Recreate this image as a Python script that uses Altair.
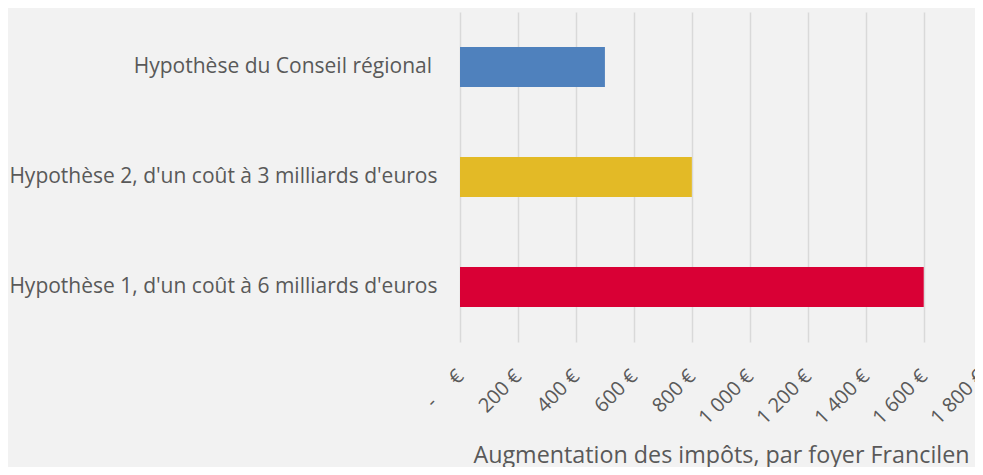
import altair as alt
import pandas as pd

NBSP = "\u00a0"
categories = [
    "Hypothèse du Conseil régional",
    "Hypothèse 2, d'un coût à 3 milliards d'euros",
    "Hypothèse 1, d'un coût à 6 milliards d'euros",
]
values = [500, 800, 1600]
colors = ["#4F81BD", "#E3BA26", "#D90035"]
tick_values = [0, 200, 400, 600, 800, 1000, 1200, 1400, 1600, 1800]
x_title = "Augmentation des impôts, par foyer Francilen"

df = pd.DataFrame({"cat": categories, "val": values})

zero_label = "-" + NBSP * 5 + "€"
label_expr = (
    "datum.value == 0 ? '" + zero_label + "' : "
    "replace(format(datum.value, ','), ',', ' ') + ' €'"
)

chart = (
    alt.Chart(df)
    .mark_bar()
    .encode(
        y=alt.Y(
            "cat:N",
            sort=categories,
            scale=alt.Scale(paddingInner=0.636, paddingOuter=0.318),
            axis=alt.Axis(
                title=None,
                domain=False,
                ticks=False,
                grid=False,
                labelFont="Open Sans",
                labelFontSize=21,
                labelColor="#595959",
                labelPadding={
                    "condition": {
                        "test": "datum.value == '" + categories[0] + "'",
                        "value": 28.5,
                    },
                    "value": 23,
                },
                labelLimit=600,
            ),
        ),
        x=alt.X(
            "val:Q",
            # the 0–1 800 € axis spans 521.7 px; the page edge cuts it at 515 px
            scale=alt.Scale(domain=[0, 1800], range=[0, 521.7], nice=False),
            axis=alt.Axis(
                values=tick_values,
                labelExpr=label_expr,
                labelAngle=-45,
                labelAlign="right",
                labelBaseline="middle",
                labelPadding=31,
                labelFont="Open Sans",
                labelFontSize=20,
                labelColor="#595959",
                labelOverlap=False,
                labelFlush=False,
                labelBound=False,
                domain=False,
                ticks=False,
                grid=True,
                gridColor="#D9D9D9",
                gridWidth=1.5,
                title=x_title,
                titleFont="Open Sans",
                titleFontSize=23.3,
                titleFontWeight="normal",
                titleColor="#595959",
                titleX=261,
                titleY=120,
                titleAlign="center",
                titleBaseline="alphabetic",
            ),
        ),
        color=alt.Color(
            "cat:N",
            scale=alt.Scale(domain=categories, range=colors),
            legend=None,
        ),
    )
    .properties(
        width=515,
        height=330,
        background="#F2F2F2",
        padding={"left": 452, "top": 4, "right": 0, "bottom": 125},
        autosize=alt.AutoSizeParams(type="none"),
    )
    .configure_view(stroke=None)
)

chart.save("out.html", embed_options={"renderer": "svg", "actions": False})
